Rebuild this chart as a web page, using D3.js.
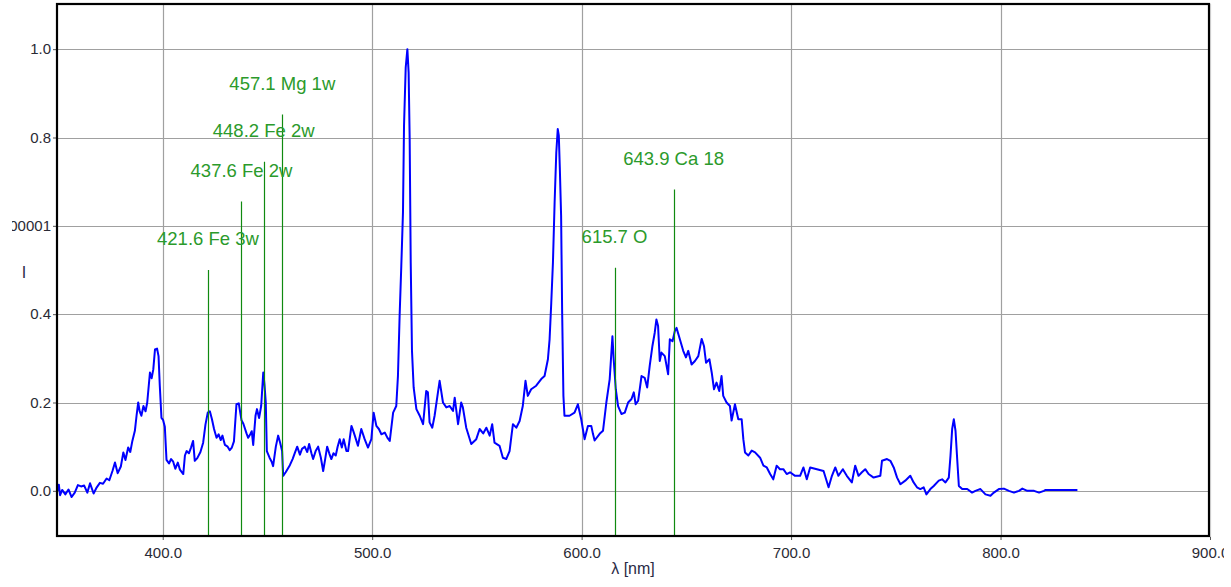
<!DOCTYPE html>
<html><head><meta charset="utf-8">
<script src="https://cdn.jsdelivr.net/npm/d3@7"></script>
<style>body{margin:0;background:#fff;} svg{display:block;font-family:"Liberation Sans",Arial,sans-serif;}</style>
</head><body><svg id="c" width="1231" height="587"></svg>
<script>
// ---- data ----
const wavelengths = [350.0,350.4,351.0,352.0,353.5,355.0,356.5,358.0,359.5,361.0,362.5,364.0,365.3,367.0,368.5,370.0,371.5,373.2,374.5,376.0,377.2,378.5,380.0,381.2,382.2,383.5,384.5,385.5,386.7,387.5,388.3,389.0,389.8,390.8,391.8,392.6,393.9,394.7,395.5,396.3,397.3,398.0,398.6,399.4,400.2,401.0,401.8,403.0,404.0,405.0,406.0,407.2,408.2,409.8,410.6,411.4,412.5,413.5,414.5,415.3,416.5,418.0,419.3,420.4,421.5,422.5,423.5,424.5,425.7,426.7,427.7,428.5,429.7,431.0,432.0,433.0,434.0,435.2,436.3,437.6,438.5,440.0,440.8,441.8,442.5,443.2,444.3,445.0,446.0,447.0,448.0,448.6,449.2,449.7,451.0,452.0,452.7,454.0,455.1,456.0,457.0,457.5,458.7,460.7,462.0,463.0,464.2,465.5,466.5,467.8,469.0,469.9,471.0,471.8,473.0,474.2,475.5,476.6,477.5,478.5,479.5,480.5,481.5,482.6,483.5,484.5,485.5,486.4,487.7,488.5,490.1,491.0,491.7,493.2,494.8,496.4,498.0,499.6,500.7,502.0,503.2,504.4,506.0,507.3,508.4,510.0,511.5,512.3,513.1,513.9,514.7,515.2,516.0,516.8,517.4,517.9,518.4,519.0,519.8,521.1,522.7,524.3,525.8,526.6,527.4,528.7,529.8,531.4,532.2,533.8,535.4,537.0,538.6,539.4,541.0,542.5,543.3,544.9,547.3,549.7,551.3,553.0,554.5,556.1,557.3,558.4,560.8,562.4,564.0,565.6,566.4,567.2,568.8,570.4,571.9,573.2,574.3,575.9,578.3,580.7,582.3,583.9,584.7,585.5,586.3,587.1,587.9,588.6,589.1,589.6,590.2,590.7,591.3,591.8,594.2,596.6,598.2,599.2,599.8,601.4,603.0,604.6,605.4,606.2,608.6,610.2,611.8,613.4,614.7,615.3,616.3,617.4,619.0,620.6,622.2,623.8,624.9,625.8,627.0,628.6,630.1,631.3,632.5,633.8,634.9,635.7,636.5,637.3,638.1,639.7,641.3,642.1,643.4,644.5,645.3,646.9,648.5,649.8,650.9,652.5,654.1,655.7,657.3,658.4,659.4,661.0,662.1,663.2,664.4,665.7,666.8,667.6,669.2,670.8,671.6,673.2,674.8,676.4,677.2,678.0,679.6,681.2,682.8,685.2,686.8,688.4,690.0,691.5,693.1,694.7,696.3,697.9,699.5,701.9,704.3,705.9,707.5,709.1,712.3,715.5,717.9,719.5,721.1,722.6,724.7,726.6,729.0,730.6,732.2,733.8,735.4,737.0,739.4,742.6,743.4,745.8,747.4,749.0,750.6,752.2,754.5,756.9,758.5,760.1,761.7,763.3,764.6,766.5,768.1,770.5,772.1,773.7,775.3,776.1,776.9,777.7,778.5,779.3,780.1,781.7,784.1,786.4,788.0,790.4,792.8,795.2,796.8,799.2,801.6,804.0,806.4,808.8,810.4,812.8,816.0,818.4,820.7,821.5,836.7];
const intensities = [0.000,0.014,-0.010,0.002,-0.008,0.003,-0.014,-0.004,0.013,0.010,0.012,-0.004,0.017,-0.006,0.008,0.018,0.016,0.028,0.024,0.045,0.064,0.040,0.055,0.087,0.070,0.098,0.088,0.113,0.136,0.170,0.200,0.180,0.170,0.192,0.180,0.200,0.268,0.255,0.275,0.320,0.322,0.305,0.238,0.165,0.160,0.145,0.070,0.062,0.072,0.066,0.050,0.064,0.048,0.038,0.080,0.090,0.085,0.098,0.113,0.068,0.074,0.088,0.109,0.150,0.177,0.180,0.162,0.140,0.120,0.128,0.115,0.125,0.104,0.100,0.092,0.098,0.112,0.196,0.198,0.160,0.152,0.130,0.120,0.128,0.135,0.104,0.170,0.185,0.165,0.192,0.268,0.240,0.200,0.090,0.075,0.066,0.056,0.100,0.125,0.110,0.090,0.034,0.042,0.058,0.072,0.085,0.100,0.082,0.095,0.100,0.088,0.106,0.085,0.072,0.090,0.100,0.075,0.045,0.070,0.100,0.085,0.072,0.085,0.080,0.100,0.117,0.098,0.117,0.090,0.090,0.147,0.135,0.125,0.102,0.140,0.117,0.098,0.117,0.177,0.147,0.140,0.128,0.132,0.120,0.113,0.177,0.192,0.260,0.396,0.509,0.630,0.826,0.958,1.000,0.947,0.796,0.517,0.317,0.234,0.185,0.170,0.151,0.226,0.223,0.155,0.143,0.170,0.223,0.249,0.200,0.189,0.192,0.181,0.211,0.151,0.200,0.189,0.143,0.106,0.117,0.140,0.130,0.143,0.125,0.151,0.109,0.102,0.075,0.072,0.090,0.121,0.151,0.143,0.158,0.192,0.249,0.215,0.230,0.238,0.253,0.260,0.298,0.343,0.426,0.517,0.653,0.766,0.819,0.804,0.728,0.623,0.404,0.215,0.170,0.170,0.177,0.196,0.175,0.162,0.117,0.147,0.147,0.129,0.114,0.129,0.136,0.200,0.253,0.350,0.298,0.230,0.192,0.174,0.177,0.200,0.208,0.223,0.196,0.204,0.260,0.256,0.234,0.283,0.328,0.358,0.388,0.373,0.294,0.313,0.305,0.264,0.343,0.339,0.362,0.369,0.343,0.317,0.302,0.317,0.286,0.294,0.305,0.344,0.328,0.290,0.298,0.268,0.230,0.245,0.226,0.260,0.215,0.200,0.192,0.159,0.196,0.162,0.162,0.117,0.087,0.080,0.091,0.087,0.075,0.057,0.053,0.038,0.026,0.057,0.049,0.049,0.038,0.042,0.034,0.034,0.053,0.026,0.053,0.049,0.045,0.008,0.034,0.053,0.034,0.049,0.034,0.019,0.057,0.034,0.042,0.049,0.038,0.030,0.034,0.068,0.072,0.068,0.053,0.030,0.015,0.023,0.034,0.019,0.008,0.004,0.008,-0.008,0.004,0.011,0.023,0.026,0.019,0.030,0.079,0.140,0.162,0.136,0.072,0.011,0.004,0.004,-0.004,0.000,0.004,-0.008,-0.011,-0.004,0.004,0.005,0.000,-0.004,0.000,0.005,0.000,0.000,-0.004,0.000,0.002,0.002];

const xTicks = [400, 500, 600, 700, 800, 900];
const xTickLabels = ["400.0", "500.0", "600.0", "700.0", "800.0", "900.0"];
const yTicks = [0.0, 0.2, 0.4, 0.6, 0.8, 1.0];
const yTickLabels = ["0.0", "0.2", "0.4", "0.600000000000001", "0.8", "1.0"];

const lineWavelengths = [421.6, 437.6, 448.2, 457.1, 615.7, 643.9];
const lineTops = [0.500, 0.655, 0.745, 0.852, 0.505, 0.682];
const lineLabels = ["421.6 Fe 3w", "437.6 Fe 2w", "448.2 Fe 2w", "457.1 Mg 1w", "615.7 O", "643.9 Ca 18"];

// ---- layout ----
const L = 57, R = 1209, T = 4, B = 536;
const svg = d3.select("#c");
const x = d3.scaleLinear().domain([350, 900]).range([L + 1, R + 1]);
const y = d3.scaleLinear().domain([-0.1, 1.1]).range([535, 5]);

const defs = svg.append("defs");
defs.append("clipPath").attr("id", "plot").append("rect").attr("x", L).attr("y", T).attr("width", R - L).attr("height", B - T);
defs.append("clipPath").attr("id", "ylab").append("rect").attr("x", 12).attr("y", 0).attr("width", 60).attr("height", 587);
defs.append("clipPath").attr("id", "xlab").append("rect").attr("x", 0).attr("y", 0).attr("width", 1224).attr("height", 587);

// grid
const grid = svg.append("g");
grid.selectAll("line.v").data(xTicks.filter(d => d < 900)).enter().append("line")
  .attr("x1", d => Math.round(x(d)) + 0.5).attr("x2", d => Math.round(x(d)) + 0.5)
  .attr("y1", T).attr("y2", B).attr("stroke", "#a0a0a0").attr("stroke-width", 1.2);
grid.selectAll("line.h").data(yTicks).enter().append("line")
  .attr("y1", d => Math.round(y(d)) + 0.5).attr("y2", d => Math.round(y(d)) + 0.5)
  .attr("x1", L).attr("x2", R).attr("stroke", "#a0a0a0").attr("stroke-width", 1.2);

// axes
const yAxis = d3.axisLeft(y).tickValues(yTicks).tickSize(4).tickPadding(2)
  .tickFormat((d, i) => yTickLabels[i]);
const gy = svg.append("g").attr("transform", `translate(${L},0)`).attr("clip-path", null).call(yAxis);
gy.select(".domain").remove();
gy.selectAll(".tick line").attr("stroke", "#555");
gy.selectAll(".tick text").attr("font-size", 15).attr("fill", "#2a2a35")
  .attr("font-family", "'Liberation Sans', Arial, sans-serif");
gy.attr("clip-path", null);
const gyWrap = svg.append("g").attr("clip-path", "url(#ylab)");
gyWrap.node().appendChild(gy.node());

const xAxis = d3.axisBottom(x).tickValues(xTicks).tickSize(4).tickPadding(7)
  .tickFormat((d, i) => xTickLabels[i]);
const gxWrap = svg.append("g").attr("clip-path", "url(#xlab)");
const gx = gxWrap.append("g").attr("transform", `translate(0,${B})`).call(xAxis);
gx.select(".domain").remove();
gx.selectAll(".tick line").attr("stroke", "#555");
gx.selectAll(".tick text").attr("font-size", 15).attr("fill", "#2a2a35")
  .attr("font-family", "'Liberation Sans', Arial, sans-serif");

// axis titles
svg.append("text").attr("x", 24).attr("y", 278).attr("text-anchor", "middle")
  .attr("font-size", 16).attr("fill", "#2a2a45").text("I");
svg.append("text").attr("x", (L + R) / 2).attr("y", 574).attr("text-anchor", "middle")
  .attr("font-size", 16).attr("fill", "#2a2a45").text("λ [nm]");

// spectrum
const pts = wavelengths.map((w, i) => [w, intensities[i]]);
const line = d3.line().x(d => x(d[0])).y(d => y(d[1])).curve(d3.curveLinear);
svg.append("g").attr("clip-path", "url(#plot)").append("path")
  .attr("d", line(pts)).attr("fill", "none").attr("stroke", "#0000ff")
  .attr("stroke-width", 2).attr("stroke-linejoin", "round");

// annotation lines
const ann = svg.append("g");
ann.selectAll("line").data(lineWavelengths).enter().append("line")
  .attr("x1", d => Math.round(x(d)) + 0.5).attr("x2", d => Math.round(x(d)) + 0.5)
  .attr("y1", (d, i) => y(lineTops[i])).attr("y2", B)
  .attr("stroke", "#108a10").attr("stroke-width", 1.2);
ann.selectAll("text").data(lineWavelengths).enter().append("text")
  .attr("x", d => x(d)).attr("y", (d, i) => y(lineTops[i]) - 25)
  .attr("text-anchor", "middle").attr("font-size", 18.5).attr("fill", "#2b9a2b")
  .text((d, i) => lineLabels[i]);

// frame
svg.append("rect").attr("x", L).attr("y", T).attr("width", R - L).attr("height", B - T)
  .attr("fill", "none").attr("stroke", "#000").attr("stroke-width", 2.2);
svg.append("line").attr("x1", R + 1.6).attr("x2", R + 1.6).attr("y1", T).attr("y2", B + 1)
  .attr("stroke", "#c8c8c8").attr("stroke-width", 1);
</script></body></html>
